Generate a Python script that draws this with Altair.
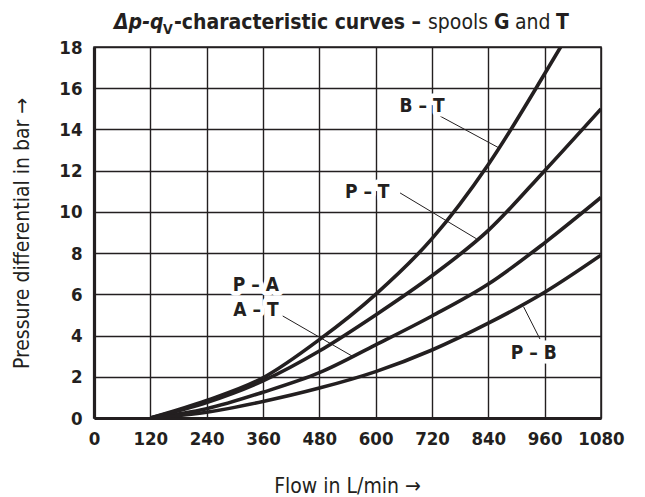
import altair as alt
import pandas as pd

# ---- data ----
flow = [120, 240, 360, 480, 600, 720, 840, 960, 1080]
bt_flow = [120, 240, 360, 480, 600, 720, 840, 960, 994]
bt = [0, 0.85, 1.95, 3.8, 6.0, 8.7, 12.3, 16.7, 18.0]
pt = [0, 0.75, 1.8, 3.25, 5.0, 6.9, 9.1, 12.0, 15.0]
pa = [0, 0.45, 1.25, 2.2, 3.55, 4.95, 6.5, 8.5, 10.7]
pb = [0, 0.28, 0.8, 1.45, 2.25, 3.3, 4.6, 6.1, 7.9]

x_ticks = [0, 120, 240, 360, 480, 600, 720, 840, 960, 1080]
y_ticks = [0, 2, 4, 6, 8, 10, 12, 14, 16, 18]

label_text = ["B – T", "P – T", "P – A", "A – T", "P – B"]
label_q = [699, 582, 345, 345, 937]
label_p = [15.14, 10.97, 6.45, 5.24, 3.15]

leader_q1 = [737, 652, 402, 950]
leader_p1 = [14.65, 10.92, 4.95, 3.83]
leader_q2 = [863, 815, 554, 915]
leader_p2 = [13.1, 8.69, 2.95, 5.4]

FONT = "Liberation Sans Narrow, DejaVu Sans Condensed, sans-serif"
INK = "#231f20"

rows = []
for name, xs, ys in [("B – T", bt_flow, bt), ("P – T", flow, pt),
                     ("P – A / A – T", flow, pa), ("P – B", flow, pb)]:
    for q, p in zip(xs, ys):
        rows.append({"curve": name, "q": q, "p": p})
curves_df = pd.DataFrame(rows)
labels_df = pd.DataFrame({"t": label_text, "q": label_q, "p": label_p})
leaders_df = pd.DataFrame({"q": leader_q1, "p": leader_p1, "q2": leader_q2, "p2": leader_p2})
one = pd.DataFrame({"a": [0]})

xscale = alt.Scale(domain=[0, 1080], nice=False, zero=False)
yscale = alt.Scale(domain=[0, 18], nice=False)

xaxis = alt.Axis(values=x_ticks, format="d", grid=True, gridColor=INK, gridWidth=1.4,
                 gridOpacity=1, domainColor=INK, domainWidth=3.2, ticks=False,
                 labelFont=FONT, labelFontSize=18.5, labelFontWeight="bold", labelColor=INK,
                 labelPadding=11, labelFlush=False,
                 title="Flow in L/min →", titleFont=FONT, titleFontSize=21,
                 titleFontWeight="normal", titleColor=INK, titleX=253, titleY=74,
                 titleBaseline="alphabetic", titleAlign="center")
yaxis = alt.Axis(values=y_ticks, grid=True, gridColor=INK, gridWidth=1.4, gridOpacity=1,
                 domainColor=INK, domainWidth=3.2, ticks=False,
                 labelFont=FONT, labelFontSize=18.5, labelFontWeight="bold", labelColor=INK,
                 labelPadding=12, labelFlush=False,
                 title="Pressure differential in bar →", titleFont=FONT, titleFontSize=21,
                 titleFontWeight="normal", titleColor=INK, titleAngle=-90,
                 titleX=-72, titleY=186, titleBaseline="middle", titleAlign="center")

lines = alt.Chart(curves_df).mark_line(color=INK, strokeWidth=3.6, interpolate="monotone",
                                       clip=True).encode(
    x=alt.X("q:Q", scale=xscale, axis=xaxis),
    y=alt.Y("p:Q", scale=yscale, axis=yaxis),
    detail="curve:N",
)

leaders = alt.Chart(leaders_df).mark_rule(color=INK, strokeWidth=1).encode(
    x="q:Q", y="p:Q", x2="q2:Q", y2="p2:Q")

halo = alt.Chart(labels_df).mark_text(font=FONT, fontSize=19, fontWeight="bold",
                                      stroke="white", strokeWidth=9, color="white",
                                      strokeJoin="round").encode(
    x="q:Q", y="p:Q", text="t:N")
texts = alt.Chart(labels_df).mark_text(font=FONT, fontSize=19, fontWeight="bold",
                                       color=INK).encode(
    x="q:Q", y="p:Q", text="t:N")


def piece(text, x, y, size, weight="bold", style="normal"):
    return alt.Chart(one).mark_text(text=text, align="left", baseline="alphabetic",
                                    font=FONT, fontSize=size, fontWeight=weight,
                                    fontStyle=style, color=INK).encode(
        x=alt.value(x), y=alt.value(y))


ty = -18
title = [
    piece("Δp-q", 20, ty, 21, "bold", "italic"),
    piece("V", 69, ty + 5, 14, "bold"),
    piece("-characteristic curves –", 80, ty, 21, "bold"),
    piece("spools", 334, ty, 21, "normal"),
    piece("G", 400, ty, 21, "bold"),
    piece("and", 421, ty, 21, "normal"),
    piece("T", 462, ty, 21, "bold"),
]

chart = alt.layer(lines, leaders, halo, texts, *title).properties(
    width=507, height=371,
    padding={"left": 94, "top": 47, "right": 44, "bottom": 79},
    autosize=alt.AutoSizeParams(type="none"),
    background="white",
).configure_view(stroke=INK, strokeWidth=1.5)

chart.save("out.html", embed_options={"renderer": "svg", "actions": False})
